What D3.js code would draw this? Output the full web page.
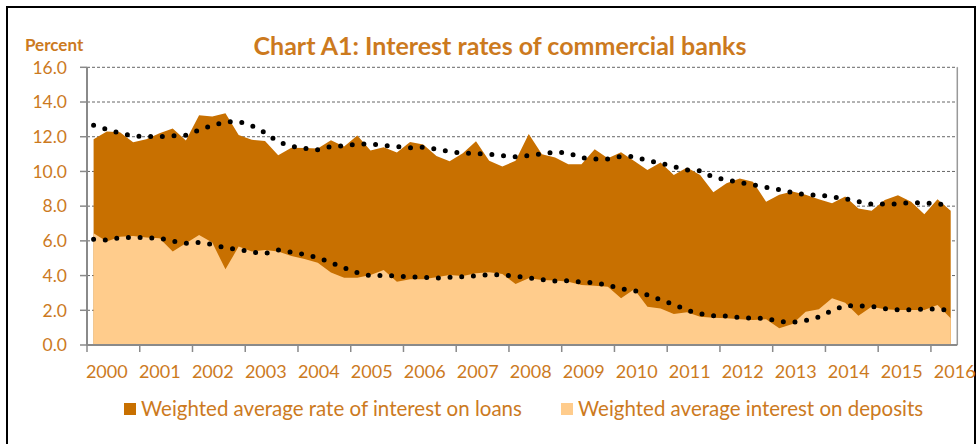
<!DOCTYPE html>
<html lang="en">
<head>
  <meta charset="UTF-8">
  <title>Chart A1</title>
  <style>
    body { margin: 0; background: #fff; }
    svg text { font-family: Lato, "Open Sans", sans-serif; fill: #CC7A1E; }
  </style>
</head>
<body>
  <script src="https://cdn.jsdelivr.net/npm/d3@7"></script>
  <script>
    var width = 979;
    var height = 444;

    // tick labels (one per year, data is quarterly 2000Q1 - 2016Q2)
    var years = ["2000", "2001", "2002", "2003", "2004", "2005", "2006", "2007", "2008",
      "2009", "2010", "2011", "2012", "2013", "2014", "2015", "2016"];

    var quarters = [];
    years.forEach(function (y) {
      ["Q1", "Q2", "Q3", "Q4"].forEach(function (q) { quarters.push(y + q); });
    });
    quarters = quarters.slice(0, 66);

    // weighted average rate of interest on loans
    var loans = [11.86, 12.30, 12.26, 11.68, 11.86, 12.20, 12.47, 11.78, 13.24, 13.16, 13.35, 12.10,
      11.82, 11.76, 10.93, 11.37, 11.35, 11.32, 11.80, 11.43, 12.07, 11.20, 11.39, 11.09,
      11.70, 11.55, 10.89, 10.59, 11.05, 11.74, 10.62, 10.28, 10.62, 12.16, 10.99, 10.80,
      10.41, 10.41, 11.28, 10.76, 11.10, 10.60, 10.09, 10.51, 9.80, 10.22, 9.80, 8.80,
      9.32, 9.60, 9.41, 8.26, 8.65, 8.84, 8.65, 8.40, 8.17, 8.55, 7.86, 7.74,
      8.36, 8.63, 8.26, 7.53, 8.40, 7.74];

    // weighted average interest on deposits
    var deposits = [6.44, 5.96, 6.24, 6.28, 6.20, 6.15, 5.38, 5.86, 6.34, 5.90, 4.36, 5.67,
      5.38, 5.48, 5.38, 5.13, 4.96, 4.74, 4.17, 3.88, 3.88, 4.03, 4.32, 3.65,
      3.79, 3.79, 3.90, 4.03, 3.98, 4.13, 4.19, 4.09, 3.52, 3.84, 3.75, 3.71,
      3.65, 3.46, 3.42, 3.36, 2.69, 3.21, 2.21, 2.11, 1.79, 1.88, 1.63, 1.57,
      1.54, 1.48, 1.44, 1.48, 0.96, 1.21, 1.92, 2.06, 2.69, 2.44, 1.69, 2.21,
      2.06, 2.02, 2.02, 2.02, 2.31, 1.54];

    // dotted trend lines
    var loansTrend = [12.66, 12.43, 12.20, 12.05, 12.01, 12.01, 12.05, 12.09, 12.38, 12.65, 12.86, 12.88,
      12.63, 12.24, 11.70, 11.45, 11.33, 11.25, 11.43, 11.47, 11.58, 11.58, 11.50, 11.43,
      11.36, 11.40, 11.29, 11.15, 11.05, 11.03, 10.99, 10.91, 10.84, 10.92, 11.02, 11.12,
      11.05, 10.80, 10.71, 10.72, 10.87, 10.85, 10.63, 10.48, 10.27, 10.08, 10.04, 9.66,
      9.52, 9.36, 9.23, 9.09, 8.95, 8.79, 8.65, 8.64, 8.54, 8.43, 8.26, 8.12,
      8.12, 8.13, 8.21, 8.18, 8.15, 8.00];

    var depositsTrend = [6.09, 6.04, 6.19, 6.20, 6.18, 6.16, 5.99, 5.86, 5.91, 5.79, 5.60, 5.50,
      5.35, 5.27, 5.47, 5.35, 5.22, 5.03, 4.75, 4.45, 4.17, 3.99, 4.01, 3.97,
      3.93, 3.90, 3.85, 3.90, 3.94, 3.99, 4.05, 4.04, 3.97, 3.87, 3.77, 3.68,
      3.70, 3.63, 3.58, 3.46, 3.24, 3.14, 2.88, 2.60, 2.33, 2.01, 1.80, 1.69,
      1.67, 1.58, 1.54, 1.53, 1.36, 1.31, 1.41, 1.62, 1.98, 2.27, 2.25, 2.22,
      2.10, 2.02, 2.04, 2.06, 2.09, 1.98];

    var yTicks = [0, 2, 4, 6, 8, 10, 12, 14, 16];

    var loanColor = "#C87000";
    var depositColor = "#FFCC8C";

    var margin = { left: 87, right: 957.3, top: 67.3, bottom: 345 };

    var svg = d3.select("body").append("svg")
      .attr("width", width)
      .attr("height", height);

    // outer frame
    svg.append("rect")
      .attr("x", 7).attr("y", 7)
      .attr("width", 968).attr("height", 470)
      .attr("fill", "none")
      .attr("stroke", "#000")
      .attr("stroke-width", 2);

    var x = d3.scaleBand().domain(quarters).range([margin.left, margin.right]);
    var bw = x.bandwidth();
    var cx = function (i) { return x(quarters[i]) + bw / 2; };
    var y = d3.scaleLinear().domain([0, 16]).range([margin.bottom, margin.top]);

    // gridlines
    svg.append("g").selectAll("line")
      .data(yTicks.slice(1))
      .enter().append("line")
      .attr("x1", margin.left).attr("x2", margin.right)
      .attr("y1", function (d) { return y(d); })
      .attr("y2", function (d) { return y(d); })
      .attr("stroke", "#666")
      .attr("stroke-width", 1)
      .attr("stroke-dasharray", "3 2");

    // areas
    function area(values) {
      return d3.area()
        .x(function (d, i) { return cx(i); })
        .y0(y(0))
        .y1(function (d) { return y(d); })(values);
    }
    svg.append("path").attr("d", area(loans)).attr("fill", loanColor);
    svg.append("path").attr("d", area(deposits)).attr("fill", depositColor);

    // dotted trend lines
    var line = d3.line()
      .x(function (d, i) { return cx(i); })
      .y(function (d) { return y(d); });
    [loansTrend, depositsTrend].forEach(function (s) {
      svg.append("path")
        .attr("d", line(s))
        .attr("fill", "none")
        .attr("stroke", "#000")
        .attr("stroke-width", 5)
        .attr("stroke-linecap", "round")
        .attr("stroke-dasharray", "0 11.7");
    });

    // right border of plot area
    svg.append("line")
      .attr("x1", margin.right).attr("x2", margin.right)
      .attr("y1", margin.top).attr("y2", margin.bottom)
      .attr("stroke", "#999").attr("stroke-width", 1.5);

    // y axis
    svg.append("line")
      .attr("x1", margin.left).attr("x2", margin.left)
      .attr("y1", margin.top).attr("y2", margin.bottom)
      .attr("stroke", "#8a8a8a").attr("stroke-width", 2);
    var yg = svg.append("g").selectAll("g").data(yTicks).enter().append("g");
    yg.append("line")
      .attr("x1", margin.left - 7).attr("x2", margin.left)
      .attr("y1", function (d) { return y(d); })
      .attr("y2", function (d) { return y(d); })
      .attr("stroke", "#8a8a8a").attr("stroke-width", 1.5);
    yg.append("text")
      .attr("x", 67)
      .attr("y", function (d) { return y(d); })
      .attr("dy", "0.36em")
      .attr("text-anchor", "end")
      .style("font-size", "17.5px")
      .text(function (d) { return d3.format(".1f")(d); });

    // x axis
    svg.append("line")
      .attr("x1", margin.left - 1).attr("x2", margin.right)
      .attr("y1", margin.bottom).attr("y2", margin.bottom)
      .attr("stroke", "#8a8a8a").attr("stroke-width", 2);
    var xg = svg.append("g").selectAll("g").data(years).enter().append("g");
    xg.append("line")
      .attr("x1", function (d, i) { return x(quarters[i * 4]); })
      .attr("x2", function (d, i) { return x(quarters[i * 4]); })
      .attr("y1", margin.bottom).attr("y2", margin.bottom + 7)
      .attr("stroke", "#8a8a8a").attr("stroke-width", 1.5);
    xg.append("text")
      .attr("x", function (d, i) { return x(quarters[i * 4]) + bw * 1.5 + i * 0.25; })
      .attr("y", 378)
      .attr("text-anchor", "middle")
      .style("font-size", "18px")
      .text(function (d) { return d; });

    // title and unit
    svg.append("text")
      .attr("x", 500).attr("y", 55)
      .attr("text-anchor", "middle")
      .style("font-size", "25px")
      .style("font-weight", "bold")
      .text("Chart A1: Interest rates of commercial banks");
    svg.append("text")
      .attr("x", 25).attr("y", 51)
      .style("font-size", "17px")
      .style("font-weight", "bold")
      .text("Percent");

    // legend
    var legend = [
      { name: "Weighted average rate of interest on loans", color: loanColor, x: 124 },
      { name: "Weighted average interest on deposits", color: depositColor, x: 561 }
    ];
    var lg = svg.append("g").selectAll("g").data(legend).enter().append("g");
    lg.append("rect")
      .attr("x", function (d) { return d.x; })
      .attr("y", 403)
      .attr("width", 12).attr("height", 12)
      .attr("fill", function (d) { return d.color; });
    lg.append("text")
      .attr("x", function (d) { return d.x + 17; })
      .attr("y", 416)
      .style("font-size", "20.5px")
      .text(function (d) { return d.name; });
  </script>
</body>
</html>
